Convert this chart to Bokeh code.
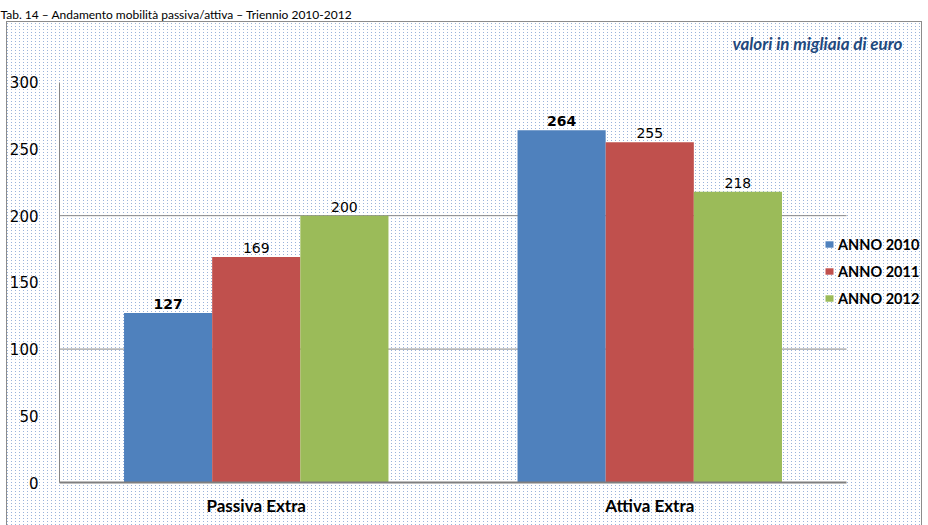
from bokeh.plotting import figure
from bokeh.models import (ColumnDataSource, Range1d, FixedTicker,
                          Legend, LegendItem, Label)
from bokeh.transform import dodge
from bokeh.core.properties import value
from bokeh.embed import file_html
from bokeh.resources import INLINE

# ---- data ----
categories = ["Passiva Extra", "Attiva Extra"]
series_names = ["ANNO 2010", "ANNO 2011", "ANNO 2012"]
anno_2010 = [127, 264]
anno_2011 = [169, 255]
anno_2012 = [200, 218]
series_colors = ["#4F81BD", "#C0504D", "#9BBB59"]
y_ticks = [0, 50, 100, 150, 200, 250, 300]
grid_ticks = [100, 200]
y_max = 300
title_text = "Tab. 14 – Andamento mobilità passiva/attiva – Triennio 2010-2012"
unit_text = "valori in migliaia di euro"

# ---- layout constants (pixels) ----
W, H = 928, 525
LEFT, TOP, BOTTOM = 59, 24, 43          # frame borders; frame reaches right edge
PLOT_W, PLOT_H = 787, 402               # drawn plot area (categories / 0..300)
BOX_L, BOX_T, BOX_R = 6, 21, 921        # outer chart-area box
frame_w = W - LEFT
frame_h = H - TOP - BOTTOM
n = len(categories)
x_end = n * frame_w / PLOT_W
y_end = y_max * frame_h / PLOT_H

p = figure(x_range=Range1d(0, x_end), y_range=Range1d(0, y_end),
           width=W, height=H, output_backend="svg", toolbar_location=None,
           min_border_left=LEFT, min_border_right=0,
           min_border_top=TOP, min_border_bottom=BOTTOM)
p.background_fill_alpha = 0.0
p.border_fill_alpha = 0.0
p.outline_line_color = None
BORDER = "#8C8C8C"
solid = lambda c: f"linear-gradient({c}, {c})"
p.styles = {
    "background-color": "#FFFFFF",
    "background-image": ", ".join([
        solid(BORDER), solid(BORDER), solid(BORDER),
        solid("#FFFFFF"), solid("#FFFFFF"), solid("#FFFFFF"),
        "linear-gradient(to right, #FFFFFF 3px, rgba(255,255,255,0) 3px)",
        "linear-gradient(to bottom, #FFFFFF 2px, rgba(255,255,255,0) 2px)",
        solid("#9AB3DA"),
    ]),
    "background-size": ", ".join([
        f"{BOX_R - BOX_L + 1}px 1px", "1px 100%", "1px 100%",
        f"{BOX_L}px 100%", f"{W - BOX_R}px 100%", f"100% {BOX_T}px",
        "4px 3px", "4px 3px", "100% 100%",
    ]),
    "background-position": ", ".join([
        f"{BOX_L}px {BOX_T}px", f"{BOX_L}px {BOX_T}px", f"{BOX_R}px {BOX_T}px",
        "0 0", "right 0px top 0px", "0 0",
        "0 0", "0 0", "0 0",
    ]),
    "background-repeat": ", ".join(["no-repeat"] * 6 + ["repeat", "repeat", "no-repeat"]),
}

# title (heading of the page, cut off in the original)
p.title.text = title_text
p.title.align = "left"
p.title.offset = -LEFT
p.title.standoff = 9
p.title.text_font = "Lato"
p.title.text_font_style = "normal"
p.title.text_font_size = "12px"
p.title.text_color = "#000000"

x_centers = [i + 0.5 for i in range(n)]
src = ColumnDataSource(dict(
    x=x_centers,
    a2010=anno_2010, a2011=anno_2011, a2012=anno_2012,
    l2010=[str(v) for v in anno_2010],
    l2011=[str(v) for v in anno_2011],
    l2012=[str(v) for v in anno_2012],
))

# horizontal gridlines limited to the plot area
grid_src = ColumnDataSource(dict(x0=[0] * len(grid_ticks), x1=[n] * len(grid_ticks),
                                 y=grid_ticks))
p.segment(x0="x0", x1="x1", y0="y", y1="y", source=grid_src,
          line_color="#868686", line_width=1)

bar_w = 0.224
offsets = [-bar_w, 0.0, bar_w]
keys = ["a2010", "a2011", "a2012"]
lkeys = ["l2010", "l2011", "l2012"]
styles = ["bold", "normal", "normal"]

items = []
for name, key, lk, off, col, st in zip(series_names, keys, lkeys, offsets,
                                       series_colors, styles):
    r = p.vbar(x=dodge("x", off), top=key, width=bar_w,
               source=src, fill_color=col, line_color=None)
    p.text(x=dodge("x", off), y=key, text=lk, source=src,
           text_align="center", text_baseline="alphabetic", y_offset=-9,
           text_font=value("DejaVu Sans"), text_font_size="14px",
           text_font_style=st, text_color="#000000")
    items.append(LegendItem(label=name, renderers=[r]))

legend = Legend(items=items, location=(765, 174), orientation="vertical",
                padding=0, margin=0, spacing=7, label_height=20,
                glyph_width=10, glyph_height=8, label_standoff=4,
                background_fill_alpha=0.0, border_line_color=None,
                label_text_font="Lato", label_text_font_style="bold",
                label_text_font_size="14.5px", label_text_color="#000000")
p.add_layout(legend)

# axes
p.yaxis.ticker = FixedTicker(ticks=y_ticks)
p.yaxis.bounds = (0, y_max)
p.yaxis.major_tick_out = 0
p.yaxis.major_tick_in = 0
p.yaxis.major_tick_line_color = None
p.yaxis.minor_tick_line_color = None
p.yaxis.major_label_standoff = 21
p.yaxis.axis_line_color = "#868686"
p.yaxis.major_label_text_font = "DejaVu Sans"
p.yaxis.major_label_text_font_size = "15px"
p.yaxis.major_label_text_color = "#000000"

p.xaxis.ticker = FixedTicker(ticks=x_centers)
p.xaxis.major_label_overrides = {c: lab for c, lab in zip(x_centers, categories)}
p.xaxis.bounds = (0, n)
p.xaxis.major_tick_out = 0
p.xaxis.major_tick_in = 0
p.xaxis.major_tick_line_color = None
p.xaxis.minor_tick_line_color = None
p.xaxis.axis_line_color = "#7F7F7F"
p.xaxis.axis_line_width = 2
p.xaxis.major_label_standoff = 12
p.xaxis.major_label_text_font = "Lato"
p.xaxis.major_label_text_font_style = "bold"
p.xaxis.major_label_text_font_size = "17px"
p.xaxis.major_label_text_color = "#000000"

p.xgrid.grid_line_color = None
p.ygrid.grid_line_color = None

# unit note
p.add_layout(Label(x=843, y=439, x_units="screen", y_units="screen",
                   text=unit_text, text_align="right",
                   text_baseline="alphabetic", text_font="Lato",
                   text_font_style="bold italic", text_font_size="17px",
                   text_color="#1F497D"))

open("out.html", "w").write(file_html(p, INLINE))
